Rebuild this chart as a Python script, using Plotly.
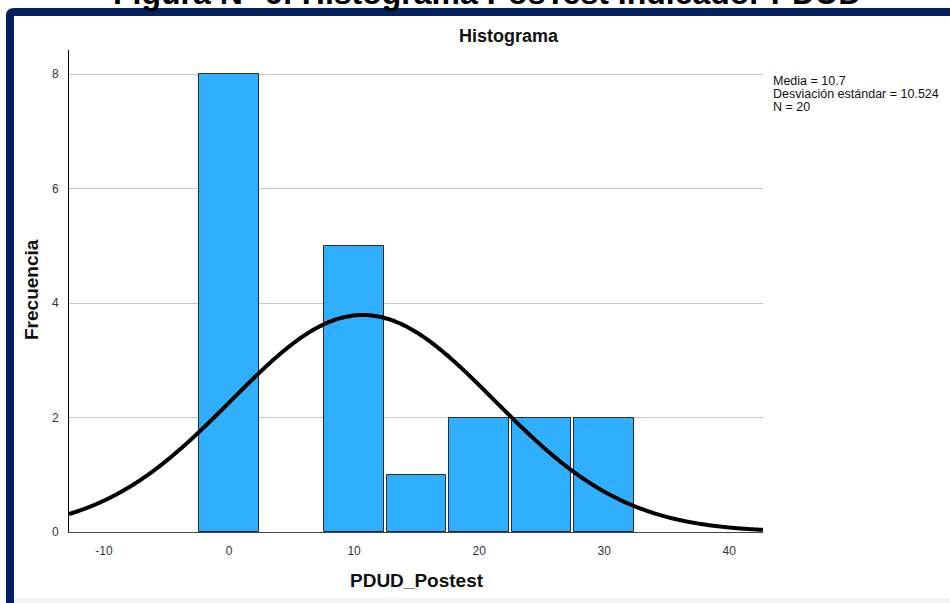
import numpy as np
import plotly.graph_objects as go

# ---- data ----
bin_centers = [0, 10, 15, 20, 25, 30]
counts = [8, 5, 1, 2, 2, 2]
bin_width = 5
mean_val = 10.7
sd_val = 10.524
n_val = 20
x_ticks = [-10, 0, 10, 20, 30, 40]
x_tick_text = ["-10", "0", "10", "20", "30", "40"]
y_ticks = [0, 2, 4, 6, 8]
x_range = [-12.8, 42.7]
y_range = [0, 8.42]

caption = "Figura N° 6: Histograma PosTest Indicador PDUD"
chart_title = "Histograma"
x_title = "PDUD_Postest"
y_title = "Frecuencia"
stats_lines = [f"Media = {mean_val}", f"Desviación estándar = {sd_val}", f"N = {n_val}"]

FONT = "Arial, 'Liberation Sans', sans-serif"
W, H = 950, 603
L, R, T, B = 69, 187, 50, 71
PW, PH = W - L - R, H - T - B


def px(x):
    return (x - L) / PW


def py(y):
    return (H - B - y) / PH


# normal curve from mean / sd of the data
xs = np.linspace(x_range[0], x_range[1], 400)
ys = n_val * bin_width / (sd_val * np.sqrt(2 * np.pi)) * np.exp(-0.5 * ((xs - mean_val) / sd_val) ** 2)

fig = go.Figure()
fig.add_trace(go.Bar(
    x=bin_centers, y=counts, width=4.75,
    marker=dict(color="#30aeff", line=dict(color="#2a2a2a", width=1)),
    showlegend=False, hoverinfo="x+y",
))
fig.add_trace(go.Scatter(
    x=xs, y=ys, mode="lines",
    line=dict(color="black", width=4, shape="spline"),
    showlegend=False, hoverinfo="skip",
))

annotations = [
    dict(text=f"<b>{caption}</b>", xref="paper", yref="paper",
         x=px(487), y=py(13), xanchor="center", yanchor="bottom",
         showarrow=False, font=dict(size=32, color="black", family=FONT)),
    dict(text=f"<b>{chart_title}</b>", xref="paper", yref="paper",
         x=px(509), y=py(36), xanchor="center", yanchor="middle",
         showarrow=False, font=dict(size=18, color="#111", family=FONT)),
    dict(text=f"<b>{x_title}</b>", xref="paper", yref="paper",
         x=px(417), y=py(580), xanchor="center", yanchor="middle",
         showarrow=False, font=dict(size=19, color="#111", family=FONT)),
    dict(text=f"<b>{y_title}</b>", xref="paper", yref="paper",
         x=px(31), y=py(290), xanchor="center", yanchor="middle",
         textangle=-90, showarrow=False,
         font=dict(size=19, color="#111", family=FONT)),
]
for i, line in enumerate(stats_lines):
    annotations.append(dict(
        text=line, xref="paper", yref="paper",
        x=px(771), y=py(81 + 13 * i), xanchor="left", yanchor="middle",
        align="left", showarrow=False,
        font=dict(size=12.5, color="#111", family=FONT)))

fig.update_layout(
    width=W, height=H,
    margin=dict(l=L, r=R, t=T, b=B, pad=0),
    paper_bgcolor="white", plot_bgcolor="white",
    font=dict(family=FONT, size=12, color="#222"),
    bargap=0,
    xaxis=dict(
        range=x_range, tickvals=x_ticks, ticktext=x_tick_text,
        showgrid=False, zeroline=False,
        showline=True, linecolor="#444", linewidth=1, ticks="",
        tickfont=dict(size=12, color="#333"), ticklabelstandoff=8,
    ),
    yaxis=dict(
        range=y_range, tickvals=y_ticks, showgrid=True, gridcolor="#c8c8c8",
        gridwidth=1, zeroline=False, showline=True, linecolor="black",
        linewidth=1, ticks="", tickfont=dict(size=12, color="#333"),
        ticklabelstandoff=7,
    ),
    shapes=[
        dict(type="path", xref="paper", yref="paper",
             path=f"M {px(10)},{py(603)} L {px(10)},{py(16)} Q {px(10)},{py(12)} {px(14)},{py(12)} L {px(960)},{py(12)}",
             line=dict(color="#04205f", width=8)),
        dict(type="rect", xref="paper", yref="paper",
             x0=px(14), x1=px(960), y0=py(603), y1=py(598),
             fillcolor="#f3f3f3", line=dict(width=0), layer="below"),
    ],
    annotations=annotations,
)

fig.write_html("out.html", config={"displayModeBar": False},
               post_script="document.body.style.margin='0';")
